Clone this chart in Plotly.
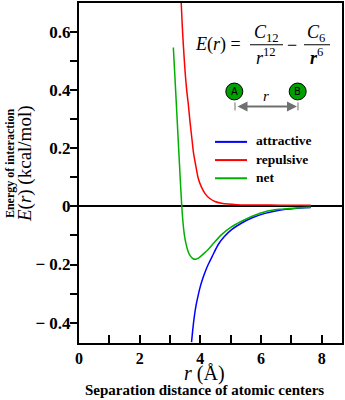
import plotly.graph_objects as go

# ---- data ----
r_rep = [3.37, 3.40, 3.44, 3.50, 3.55, 3.60, 3.66, 3.73, 3.77, 3.85, 3.93, 4.03, 4.15, 4.30, 4.48, 4.70, 4.92, 5.20, 5.47, 6.00, 6.60, 7.20, 7.64]
e_rep = [0.700, 0.630, 0.555, 0.460, 0.400, 0.355, 0.291, 0.225, 0.188, 0.140, 0.097, 0.068, 0.045, 0.028, 0.017, 0.011, 0.008, 0.006, 0.005, 0.005, 0.004, 0.004, 0.004]

r_att = [3.71, 3.75, 3.80, 3.86, 3.93, 4.00, 4.08, 4.17, 4.26, 4.40, 4.59, 4.80, 5.03, 5.35, 5.69, 6.13, 6.60, 7.10, 7.64]
e_att = [-0.467, -0.425, -0.380, -0.340, -0.305, -0.275, -0.248, -0.222, -0.200, -0.170, -0.131, -0.103, -0.080, -0.058, -0.040, -0.024, -0.013, -0.007, -0.004]

r_net = [3.11, 3.17, 3.23, 3.29, 3.34, 3.38, 3.42, 3.47, 3.53, 3.60, 3.68, 3.76, 3.84, 3.92, 4.02, 4.14, 4.26, 4.45, 4.70, 5.00, 5.36, 5.75, 6.13, 6.60, 7.10, 7.64]
e_net = [0.547, 0.430, 0.310, 0.190, 0.090, 0.015, -0.045, -0.095, -0.130, -0.156, -0.172, -0.180, -0.182, -0.179, -0.171, -0.160, -0.148, -0.125, -0.097, -0.072, -0.051, -0.032, -0.018, -0.010, -0.006, -0.003]

series_names = ["attractive", "repulsive", "net"]
series_colors = ["#0000ff", "#ff0000", "#00b000"]
x_tickvals = [0, 1, 2, 3, 4, 5, 6, 7, 8]
x_ticktext = ["0", "", "2", "", "4", "", "6", "", "8"]
y_tickvals = [-0.4, -0.3, -0.2, -0.1, 0, 0.1, 0.2, 0.3, 0.4, 0.5, 0.6]
y_ticktext = ["\u2212 0.4", "", "\u2212 0.2", "", "0", "", "0.2", "", "0.4", "", "0.6"]

SERIF = "Liberation Serif"

# plot area geometry in pixels
L, R, T, B = 79, 342, 1, 343
def px(x):
    return (x - L) / (R - L)
def py(y):
    return (B - y) / (B - T)

def bold(s):
    return "<b>" + s + "</b>" if s else s

fig = go.Figure()
for rv, ev, nm, col in zip([r_att, r_rep, r_net], [e_att, e_rep, e_net], series_names, series_colors):
    fig.add_trace(go.Scatter(x=rv, y=ev, mode="lines", name=nm, showlegend=False,
                             line=dict(color=col, width=1.5, shape="spline", smoothing=0.6)))

shapes = []
annotations = []

def txt(x, y, text, size, angle=0, family=SERIF, color="black", anchor="center"):
    annotations.append(dict(xref="paper", yref="paper", x=px(x), y=py(y), text=text,
                            showarrow=False, xanchor=anchor, yanchor="middle",
                            textangle=angle,
                            font=dict(family=family, size=size, color=color)))

def line(x0, y0, x1, y1, color="black", width=1):
    shapes.append(dict(type="line", xref="paper", yref="paper",
                       x0=px(x0), y0=py(y0), x1=px(x1), y1=py(y1),
                       line=dict(color=color, width=width)))

# equation
txt(218, 43, "<i>E</i>(<i>r</i>) =", 18)
txt(266, 32, "<i>C</i><sub>12</sub>", 18)
line(250, 43, 283, 43)
txt(266, 55, "<i>r</i><sup>12</sup>", 18)
txt(292, 43, "\u2212", 18)
txt(316, 32, "<i>C</i><sub>6</sub>", 18)
line(304, 43, 330, 43)
txt(316, 55, "<b><i>r</i></b><sup>6</sup>", 18)

# atoms A and B
for cx, lab in [(234.3, "A"), (297.7, "B")]:
    rr = 8.5
    shapes.append(dict(type="circle", xref="paper", yref="paper",
                       x0=px(cx - rr), x1=px(cx + rr), y0=py(90 + rr), y1=py(90 - rr),
                       fillcolor="#00a000", line=dict(color="black", width=1)))
    txt(cx, 90, lab, 10, family="DejaVu Sans")

# distance arrow
annotations.append(dict(xref="paper", yref="paper", x=px(297), y=py(105),
                        axref="pixel", ayref="pixel", ax=-61, ay=0,
                        text="", showarrow=True, arrowside="end+start",
                        arrowhead=2, arrowsize=1, arrowwidth=2, arrowcolor="#707070"))
line(235, 101, 235, 109, color="#707070")
line(298, 101, 298, 109, color="#707070")
txt(266, 95, "<i>r</i>", 15)

# legend (line samples + labels)
for i, (nm, col) in enumerate(zip(series_names, series_colors)):
    yy = 140.7 + i * 18.3
    line(215, yy, 247, yy, color=col, width=2)
    txt(254, yy - 1, bold(nm), 13.5, anchor="left")

# axis titles
txt(10, 162, "<b>Energy of interaction</b>", 12, angle=-90)
txt(25, 163, "<i>E</i>(<i>r</i>) (kcal/mol)", 19, angle=-90)
txt(204, 374, "<i>r</i> (Å)", 20)
txt(204, 390, "<b>Separation distance of atomic centers</b>", 15)

fig.update_layout(
    width=345, height=400,
    margin=dict(l=L, r=345 - R, t=T, b=400 - B),
    paper_bgcolor="white", plot_bgcolor="white",
    font=dict(family=SERIF, color="black"),
    showlegend=False,
    shapes=shapes,
    annotations=annotations,
)
fig.update_xaxes(range=[0, 8.67], tickvals=x_tickvals, ticktext=[bold(t) for t in x_ticktext],
                 ticks="inside", ticklen=8, tickwidth=2, tickcolor="black",
                 showline=True, linewidth=2, linecolor="black", mirror=True,
                 showgrid=False, zeroline=False,
                 tickfont=dict(family=SERIF, size=16, color="black"))
fig.update_yaxes(range=[-0.47, 0.70], tickvals=y_tickvals, ticktext=[bold(t) for t in y_ticktext],
                 ticks="outside", ticklen=7, tickwidth=2, tickcolor="black",
                 showline=True, linewidth=2, linecolor="black", mirror=True,
                 showgrid=False, zeroline=True, zerolinecolor="black", zerolinewidth=2,
                 ticklabelstandoff=-4,
                 tickfont=dict(family=SERIF, size=17, color="black"))

fig.write_html("out.html")
